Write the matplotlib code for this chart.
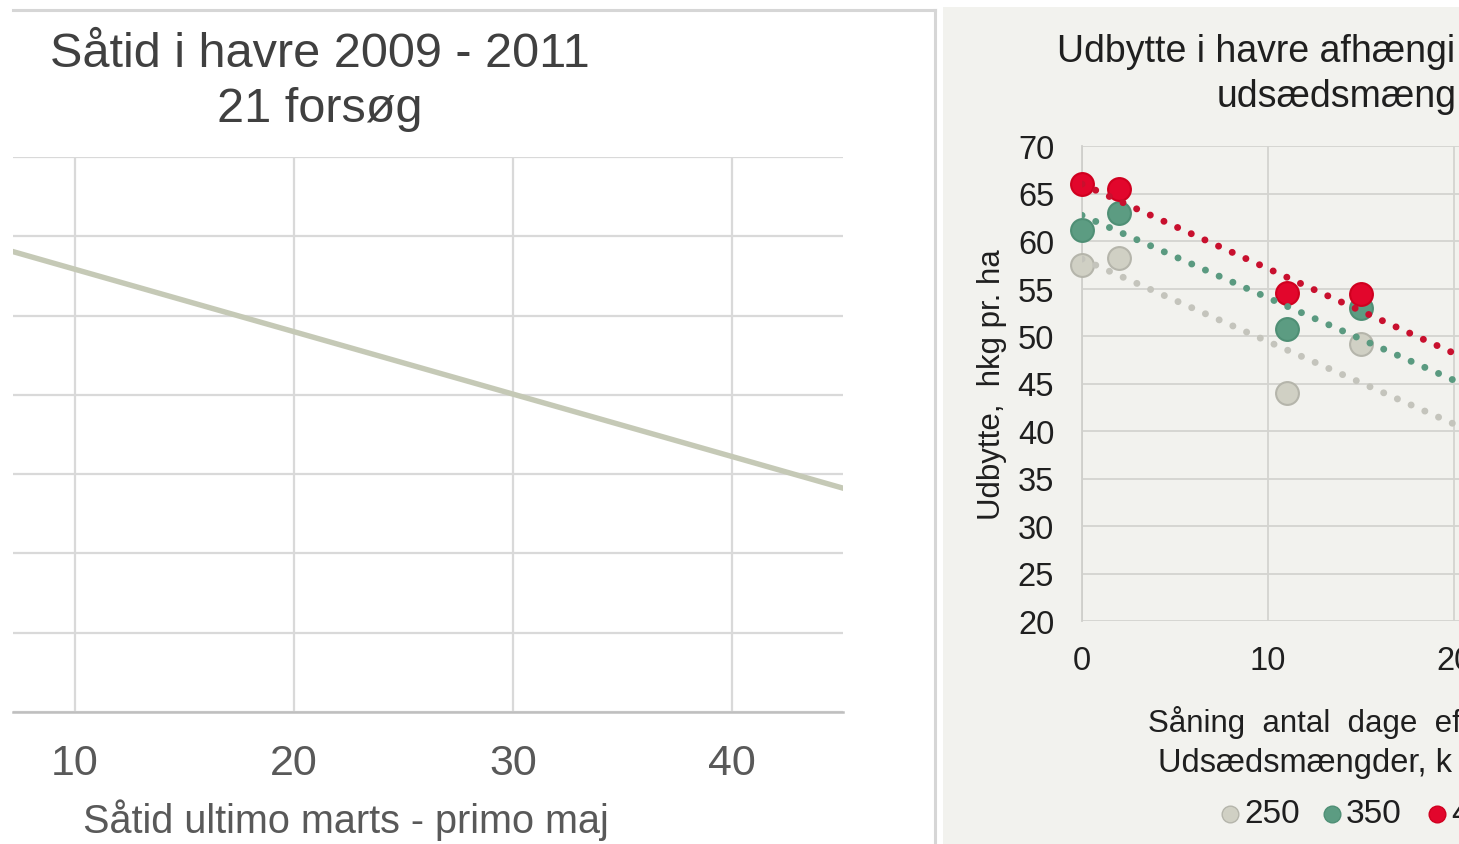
import matplotlib
matplotlib.use("Agg")
import matplotlib.pyplot as plt
from matplotlib.patches import Rectangle
from matplotlib.lines import Line2D

plt.rcParams['font.family'] = ['Liberation Sans', 'DejaVu Sans']

W, H = 1459, 845
DPI = 100

# ---------------- data: left chart ----------------
left_title = ["Såtid i havre 2009 - 2011", "21 forsøg"]
left_xlabel = "Såtid ultimo marts - primo maj"
left_xticks = [10, 20, 30, 40]
left_yticks = [0, 10, 20, 30, 40, 50, 60, 70]
left_line_x = [7.0, 46.0]
left_line_y = [58.2, 27.5]

# ---------------- data: right chart (cropped at the right edge) ----------------
right_title = ["Udbytte i havre afhængi", "udsædsmæng"]
right_ylabel = "Udbytte,  hkg pr. ha"
right_xlabel = ["Såning  antal  dage  ef", "Udsædsmængder, k"]
right_xticks = [0, 10, 20, 30]
right_yticks = [20, 25, 30, 35, 40, 45, 50, 55, 60, 65, 70]
days = [0, 2, 11, 15]
series_names = ["250", "350", "450"]
yield_250 = [57.5, 58.2, 44.0, 49.2]
yield_350 = [61.2, 63.0, 50.7, 52.9]
yield_450 = [66.0, 65.5, 54.5, 54.4]
trend_x = [0, 22]
trend_250 = [58.1, 39.0]
trend_350 = [62.7, 43.6]
trend_450 = [66.0, 46.4]

fig = plt.figure(figsize=(W / DPI, H / DPI), dpi=DPI)
fig.patch.set_facecolor('white')

def fx(px):
    return px / W

def fy(py):
    return 1 - py / H

# right panel background
fig.patches.append(Rectangle((fx(943), 0), fx(W - 943), fy(8), transform=fig.transFigure,
                             facecolor='#f2f2ee', edgecolor='none', zorder=-5))
# left panel frame
fig.add_artist(Line2D([fx(13), fx(935)], [fy(11), fy(11)], transform=fig.transFigure,
                      color='#d6d6d6', lw=2.2, zorder=-4))
fig.add_artist(Line2D([fx(935), fx(935)], [fy(11), 0], transform=fig.transFigure,
                      color='#d6d6d6', lw=2.2, zorder=-4))

# ---------------- left chart ----------------
axL = fig.add_axes([fx(13), fy(713), fx(843 - 13), (713 - 158) / H])
axL.set_facecolor('none')
axL.set_xlim(7.17, 45.07)
axL.set_ylim(0, 70)
axL.set_xticks(left_xticks)
axL.set_yticks(left_yticks)
axL.grid(True, color='#d9d9d9', lw=1.6)
axL.set_axisbelow(True)
for s in ['top', 'right', 'left']:
    axL.spines[s].set_visible(False)
axL.spines['bottom'].set_color('#bfbfbf')
axL.spines['bottom'].set_linewidth(1.8)
axL.tick_params(axis='x', length=0, pad=22, labelsize=31, labelcolor='#595959')
axL.tick_params(axis='y', length=0, labelleft=False)
axL.plot(left_line_x, left_line_y, color='#c5c9b6', lw=3.9, solid_capstyle='butt')

fig.text(fx(320), fy(67), left_title[0], ha='center', va='baseline',
         fontsize=35, color='#404040')
fig.text(fx(320), fy(122), left_title[1], ha='center', va='baseline',
         fontsize=35, color='#404040')
fig.text(fx(346), fy(820), left_xlabel, ha='center', va='center',
         fontsize=28.5, color='#595959')

# ---------------- right chart ----------------
px_per_day = 18.6
xmax = 30
axR = fig.add_axes([fx(1082), fy(622), fx(px_per_day * xmax), (622 - 147) / H])
axR.set_facecolor('none')
axR.set_xlim(0, xmax)
axR.set_ylim(20, 70)
axR.set_xticks(right_xticks)
axR.set_yticks(right_yticks)
axR.grid(True, color='#d4d4d0', lw=1.3)
axR.set_axisbelow(True)
for s in ['top', 'right', 'bottom']:
    axR.spines[s].set_visible(False)
axR.spines['left'].set_color('#cfcfcb')
axR.spines['left'].set_linewidth(1.3)
axR.tick_params(axis='both', length=0, labelsize=23.5, labelcolor='#1f1f1f')
axR.tick_params(axis='y', pad=20)
axR.tick_params(axis='x', pad=17)

colors = {'250': ('#d0d0c4', '#b5b5ab', '#c4c4bc'),
          '350': ('#5c9c82', '#4f8f75', '#5a9a80'),
          '450': ('#e2062c', '#d0001f', '#c8102e')}
ys = [yield_250, yield_350, yield_450]
trends = [trend_250, trend_350, trend_450]
for name, y in zip(series_names, ys):
    fc, ec, tc = colors[name]
    axR.scatter(days, y, s=270, facecolor=fc, edgecolor=ec, linewidth=1.5, zorder=3,
                clip_on=False)
for name, tr in zip(series_names, trends):
    fc, ec, tc = colors[name]
    axR.plot(trend_x, tr, color=tc, lw=5.0, linestyle=(0, (0.01, 2.15)),
             dash_capstyle='round', zorder=4)

fig.text(fx(1057), fy(62), right_title[0], ha='left', va='baseline', fontsize=27, color='#1f1f1f')
fig.text(fx(1217), fy(107), right_title[1], ha='left', va='baseline', fontsize=27, color='#1f1f1f')
fig.text(fx(992), fy(385), right_ylabel, ha='center', va='center', rotation=90,
         fontsize=22.5, color='#1f1f1f')
fig.text(fx(1148), fy(723), right_xlabel[0], ha='left', va='center', fontsize=22.5, color='#1f1f1f')
fig.text(fx(1158), fy(764), right_xlabel[1], ha='left', va='center', fontsize=23.5, color='#1f1f1f')

# legend (manual)
leg_x = [1230, 1332, 1437]
for name, lx in zip(series_names, leg_x):
    fc, ec, tc = colors[name]
    fig.add_artist(Line2D([fx(lx)], [fy(815)], transform=fig.transFigure, marker='o',
                          markersize=12, markerfacecolor=fc, markeredgecolor=ec,
                          linestyle='none'))
    fig.text(fx(lx + 14), fy(815), name, ha='left', va='center', fontsize=24, color='#1f1f1f')

fig.savefig('out.png', dpi=DPI)
